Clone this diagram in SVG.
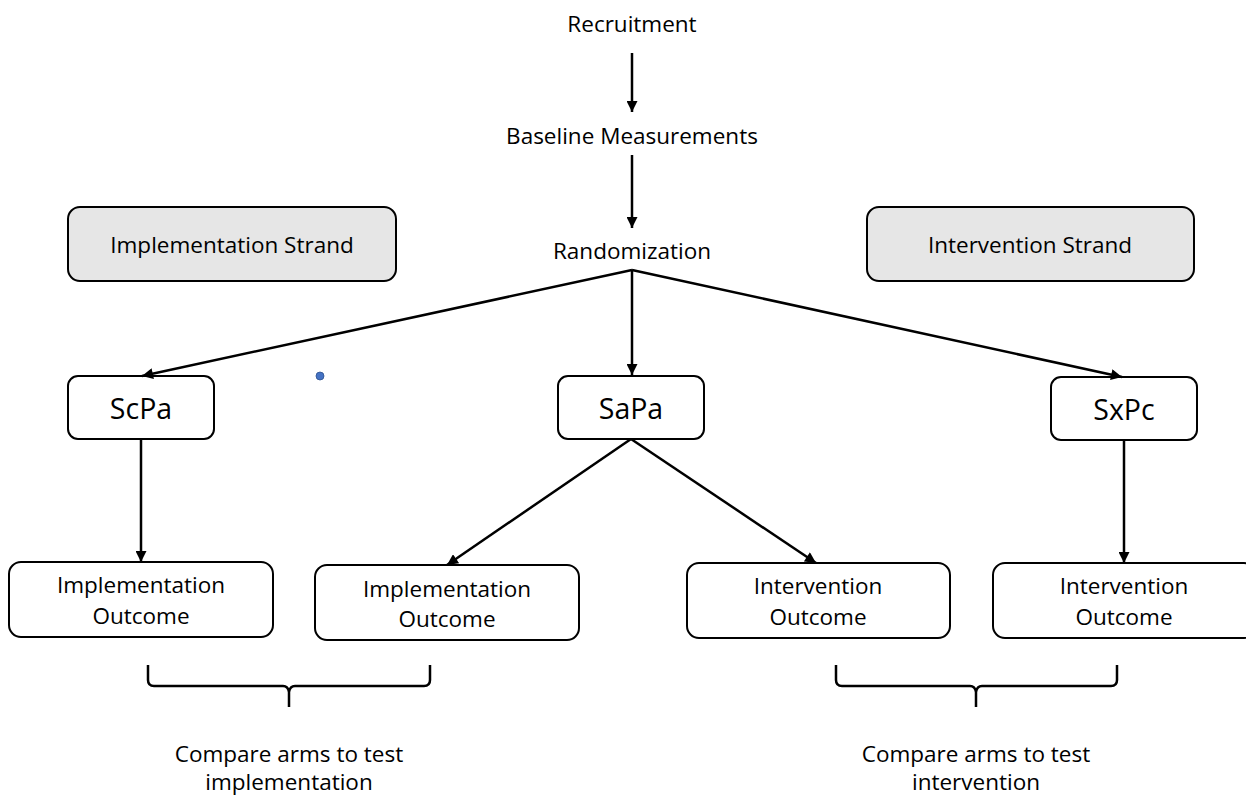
<svg xmlns="http://www.w3.org/2000/svg" width="1246" height="795" viewBox="0 0 1246 795">
<style>
  text { font-family: "Open Sans", "Liberation Sans", sans-serif; font-size: 22.5px; fill: #000; text-anchor: middle; }
  .big { font-size: 28.5px; }
  .box { fill: #fff; stroke: #000; stroke-width: 2; }
  .strand { fill: #e6e6e6; stroke: #000; stroke-width: 2; }
  .conn { stroke: #000; stroke-width: 2.5; fill: none; }
  .brace { stroke: #000; stroke-width: 2.5; fill: none; }
</style>
<defs>
  <marker id="arr" viewBox="0 0 10 10" refX="10" refY="5" markerWidth="4.6" markerHeight="4.4" orient="auto" markerUnits="strokeWidth">
    <path d="M0,0 L10,5 L0,10 z" fill="#000"/>
  </marker>
</defs>
<rect width="1246" height="795" fill="#fff"/>

<g id="recruitment"><text x="632" y="32">Recruitment</text></g>
<g id="baseline"><text x="632" y="144">Baseline Measurements</text></g>
<g id="randomization"><text x="632" y="259">Randomization</text></g>

<g id="impl-strand">
  <rect class="strand" x="68" y="207" width="328" height="74" rx="12"/>
  <text x="232" y="253">Implementation Strand</text>
</g>
<g id="int-strand">
  <rect class="strand" x="867" y="207" width="327" height="74" rx="12"/>
  <text x="1030" y="253">Intervention Strand</text>
</g>

<g id="scpa">
  <rect class="box" x="68" y="376" width="146" height="63" rx="10"/>
  <text class="big" x="141" y="419">ScPa</text>
</g>
<g id="sapa">
  <rect class="box" x="558" y="376" width="146" height="63" rx="10"/>
  <text class="big" x="631" y="419">SaPa</text>
</g>
<g id="sxpc">
  <rect class="box" x="1051" y="377" width="146" height="63" rx="10"/>
  <text class="big" x="1124" y="420">SxPc</text>
</g>

<g id="dot"><circle cx="320" cy="376" r="4" fill="#4472c4" stroke="#2f528f" stroke-width="0.8"/></g>

<g id="impl-outcome-1">
  <rect class="box" x="9" y="562" width="264" height="75" rx="12"/>
  <text x="141" y="593">Implementation</text>
  <text x="141" y="624">Outcome</text>
</g>
<g id="impl-outcome-2">
  <rect class="box" x="315" y="565" width="264" height="75" rx="12"/>
  <text x="447" y="597">Implementation</text>
  <text x="447" y="627">Outcome</text>
</g>
<g id="int-outcome-1">
  <rect class="box" x="687" y="563" width="263" height="75" rx="12"/>
  <text x="818" y="594">Intervention</text>
  <text x="818" y="625">Outcome</text>
</g>
<g id="int-outcome-2">
  <rect class="box" x="993" y="563" width="263" height="75" rx="12"/>
  <text x="1124" y="594">Intervention</text>
  <text x="1124" y="625">Outcome</text>
</g>

<g id="connectors">
  <line class="conn" x1="632" y1="53" x2="632" y2="112" marker-end="url(#arr)"/>
  <line class="conn" x1="632" y1="155" x2="632" y2="228" marker-end="url(#arr)"/>
  <line class="conn" x1="632" y1="270" x2="142" y2="376" marker-end="url(#arr)"/>
  <line class="conn" x1="632" y1="270" x2="632" y2="375" marker-end="url(#arr)"/>
  <line class="conn" x1="632" y1="270" x2="1122" y2="377" marker-end="url(#arr)"/>
  <line class="conn" x1="141" y1="439" x2="141" y2="562" marker-end="url(#arr)"/>
  <line class="conn" x1="631" y1="439" x2="447" y2="565" marker-end="url(#arr)"/>
  <line class="conn" x1="631" y1="439" x2="816" y2="563" marker-end="url(#arr)"/>
  <line class="conn" x1="1124" y1="440" x2="1124" y2="563" marker-end="url(#arr)"/>
</g>

<g id="brace-impl">
  <path class="brace" d="M148,665 L148,680 Q148,686 154,686 L283,686 Q288,686 289,692 L289,707 M289,692 Q290,686 295,686 L424,686 Q430,686 430,680 L430,665"/>
  <text x="289" y="762">Compare arms to test</text>
  <text x="289" y="790">implementation</text>
</g>
<g id="brace-int">
  <path class="brace" d="M836,665 L836,680 Q836,686 842,686 L970,686 Q975,686 976,692 L976,707 M976,692 Q977,686 982,686 L1111,686 Q1117,686 1117,680 L1117,665"/>
  <text x="976" y="762">Compare arms to test</text>
  <text x="976" y="790">intervention</text>
</g>
</svg>
